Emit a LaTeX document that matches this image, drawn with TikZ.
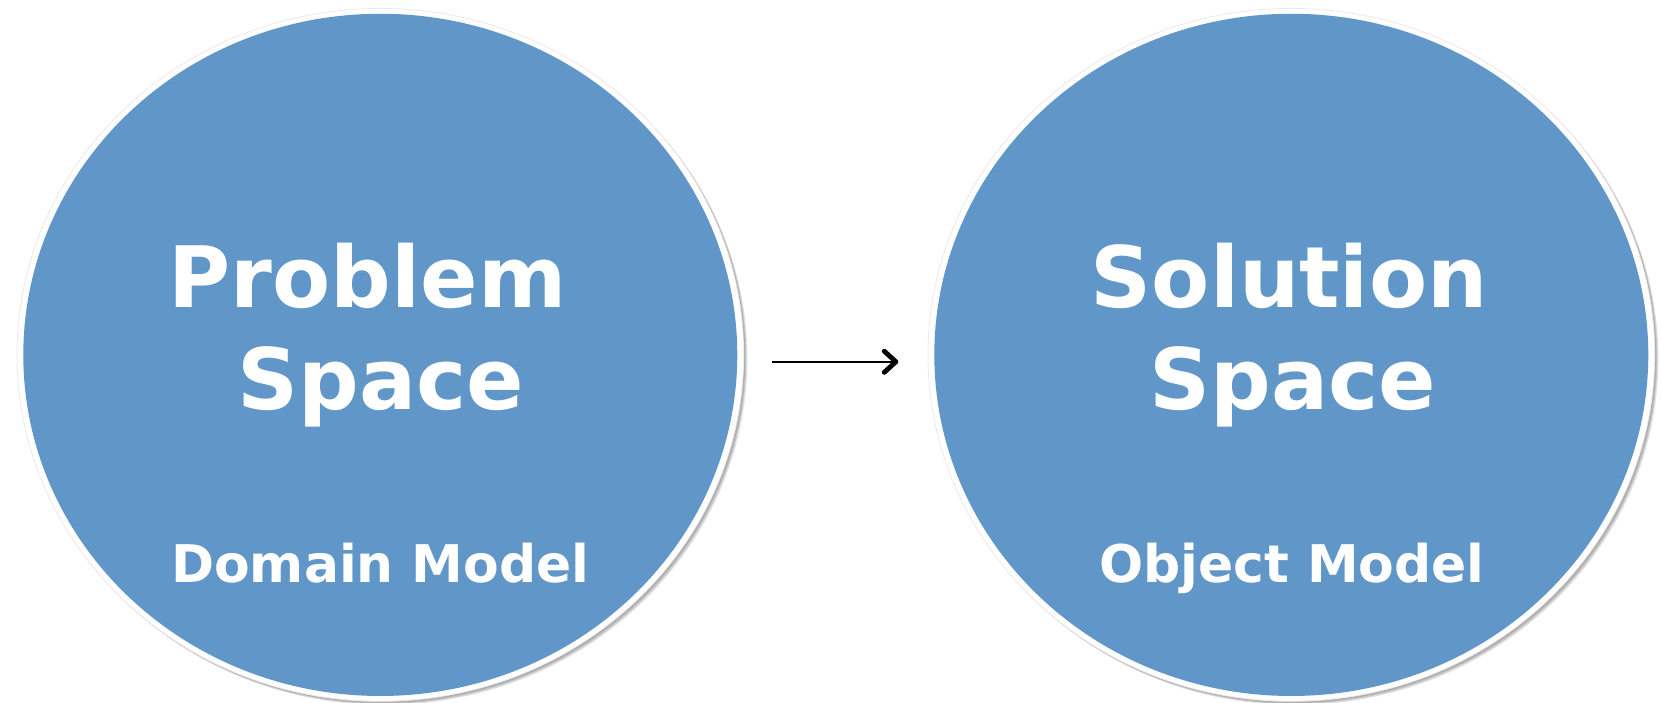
\documentclass[tikz,border=0pt]{standalone}
\usepackage{fontspec}
\setmainfont{DejaVu Sans}
\usetikzlibrary{arrows.meta}
\definecolor{spaceblue}{HTML}{6096C8}
\definecolor{rimgray}{HTML}{EBEBEB}
\begin{document}
\begin{tikzpicture}[x=1pt,y=-1pt,
  shadowell/.style={fill=black,opacity=0.12},
  rimell/.style={fill=white,draw=rimgray,line width=0.8pt},
  bodyell/.style={fill=spaceblue},
  bigtxt/.style={text=white,font=\bfseries\fontsize{80}{97}\selectfont,anchor=base,inner sep=0pt},
  smalltxt/.style={text=white,font=\bfseries\fontsize{49}{58}\selectfont,anchor=base,inner sep=0pt},
  conn/.style={draw=black,line width=1.9pt,-{Straight Barb[length=11pt,width=20pt,line width=0pt 2.4,round]}}
]
\path[use as bounding box] (0,0) rectangle (1568,663.6);
% left
\foreach \d in {1.5,2.5,3.5}{\fill[shadowell] (359+\d,335+\d) ellipse [x radius=343pt, y radius=327pt];}
\path[rimell] (359,335) ellipse [x radius=343pt, y radius=327pt];
\path[bodyell] (359,335) ellipse [x radius=337pt, y radius=322pt];
% right
\foreach \d in {1.5,2.5,3.5}{\fill[shadowell] (1219+\d,335+\d) ellipse [x radius=343pt, y radius=327pt];}
\path[rimell] (1219,335) ellipse [x radius=343pt, y radius=327pt];
\path[bodyell] (1219,335) ellipse [x radius=337pt, y radius=322pt];
\node[bigtxt] (p1) at (347,290) {Problem};
\node[bigtxt] (p2) at (359.5,387) {Space};
\node[smalltxt] (p3) at (359,550) {Domain Model};
\node[bigtxt] (s1) at (1217,290) {Solution};
\node[bigtxt] (s2) at (1220.5,387) {Space};
\node[smalltxt] (s3) at (1219.5,550) {Object Model};
\coordinate (a1) at (729,341.5);
\coordinate (a2) at (848,341.5);
\draw[conn] (a1) -- (a2);
\end{tikzpicture}
\end{document}
